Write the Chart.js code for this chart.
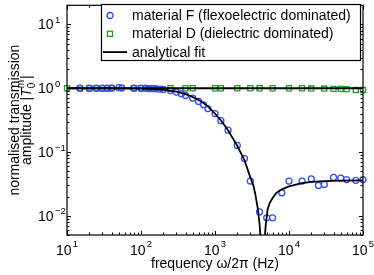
<!DOCTYPE html>
<html><head><meta charset="utf-8">
<script src="https://cdn.jsdelivr.net/npm/chart.js@4/dist/chart.umd.min.js"></script>
<style>html,body{margin:0;padding:0;background:#fff;overflow:hidden}#wrap{width:374px;height:275px}</style>
</head><body><div id="wrap"><canvas id="c" width="374" height="275"></canvas></div>
<script>
// ---- data ----
const freqF = [15, 20, 25, 30, 35, 40, 50, 55, 80, 100, 115, 130, 145, 160, 180, 200, 250, 300, 350, 400, 500, 600, 700, 800, 1000, 1200, 1500, 2000, 2500, 3000, 4000, 5000, 6000, 8000, 10000, 15000, 20000, 25000, 30000, 40000, 50000, 60000, 80000, 100000];
const ampF = [1.0, 1.0, 1.0, 1.0, 1.0, 1.01, 1.02, 1.01, 1.0, 1.0, 1.0, 0.99, 0.99, 0.98, 0.97, 0.96, 0.92, 0.87, 0.82, 0.77, 0.70, 0.62, 0.55, 0.48, 0.40, 0.31, 0.22, 0.127, 0.079, 0.035, 0.0115, 0.0093, 0.0093, 0.023, 0.035, 0.035, 0.038, 0.030, 0.031, 0.040, 0.039, 0.037, 0.036, 0.037];
const freqD = [10, 15, 20, 25, 30, 35, 40, 80, 100, 125, 140, 150, 250, 400, 500, 1000, 1200, 2000, 3000, 4000, 6000, 10000, 15000, 20000, 30000, 40000, 50000, 60000, 80000, 100000];
const ampD = [1.0, 1.0, 1.0, 1.0, 1.0, 1.0, 1.0, 1.0, 1.0, 1.0, 1.0, 1.0, 1.0, 1.0, 1.0, 1.0, 1.0, 1.0, 1.0, 1.0, 1.0, 1.0, 1.0, 0.99, 0.99, 0.98, 0.98, 0.97, 0.94, 0.94];
const freqFitF = [10, 30, 60, 100, 150, 200, 300, 400, 500, 600, 700, 800, 1000, 1200, 1500, 2000, 2500, 3000, 3300, 3500, 3800, 4000, 4100, 4200, 4400, 4600, 4700, 4840, 5140, 5500, 6000, 6800, 8000, 10000, 15000, 20000, 30000, 50000, 100000];
const ampFitF = [1.0, 1.0, 0.995, 0.985, 0.968, 0.945, 0.885, 0.81, 0.73, 0.655, 0.585, 0.52, 0.40, 0.315, 0.22, 0.125, 0.075, 0.04, 0.03, 0.022, 0.0127, 0.0075, 0.005, 0.003, 0.0002, 0.0025, 0.0045, 0.007, 0.0127, 0.016, 0.019, 0.023, 0.026, 0.029, 0.0325, 0.034, 0.035, 0.0355, 0.036];
const freqFitD = [10, 100000];
const ampFitD = [1.0, 1.0];
const xTickValues = [10, 100, 1000, 10000, 100000];
const xTickExponents = ['1', '2', '3', '4', '5'];
const yTickValues = [0.01, 0.1, 1, 10];
const yTickExponents = ['\u22122', '\u22121', '0', '1'];
const seriesLabels = ['material F (flexoelectric dominated)', 'material D (dielectric dominated)', 'analytical fit'];
const xTitle = 'frequency \u03c9/2\u03c0 (Hz)';
const yTitleLine1 = 'normalised transmission';
const yTitleLine2 = 'amplitude |';

const FONT = '"Liberation Sans", Arial, Helvetica, sans-serif';
const BLUE = '#2f4fff';
const GREEN = '#22a022';

const pts = (xs, ys) => xs.map((v, i) => ({x: v, y: ys[i]}));

const decor = {
  id: 'decor',
  afterDatasetsDraw(chart) {
    const {ctx, chartArea: a, scales: {x, y}} = chart;
    ctx.save();
    ctx.strokeStyle = '#000';
    ctx.lineWidth = 1.2;
    ctx.strokeRect(a.left, a.top, a.right - a.left, a.bottom - a.top);
    ctx.lineWidth = 1;
    ctx.beginPath();
    // x ticks
    const xMin = x.min, xMax = x.max;
    for (let d = 1; d <= 1e5; d *= 10) {
      for (let k = 1; k <= 9; k++) {
        const v = d * k;
        if (v < xMin * 0.999 || v > xMax * 1.001) continue;
        const len = k === 1 ? 4 : 2.5;
        const px = Math.round(x.getPixelForValue(v)) + 0.5;
        ctx.moveTo(px, a.bottom); ctx.lineTo(px, a.bottom - len);
        ctx.moveTo(px, a.top); ctx.lineTo(px, a.top + len);
      }
    }
    for (let d = 0.001; d <= 100; d *= 10) {
      for (let k = 1; k <= 9; k++) {
        const v = d * k;
        if (v < y.min * 0.999 || v > y.max * 1.001) continue;
        const len = k === 1 ? 4 : 2.5;
        const py = Math.round(y.getPixelForValue(v)) + 0.5;
        ctx.moveTo(a.left, py); ctx.lineTo(a.left + len, py);
        ctx.moveTo(a.right, py); ctx.lineTo(a.right - len, py);
      }
    }
    ctx.stroke();

    // tick labels
    ctx.fillStyle = '#000';
    ctx.textBaseline = 'alphabetic';
    xTickValues.forEach((v, i) => {
      const px = x.getPixelForValue(v);
      ctx.font = '14px ' + FONT;
      const wb = ctx.measureText('10').width;
      ctx.font = '9.5px ' + FONT;
      const we = ctx.measureText(xTickExponents[i]).width;
      const left = px - (wb + 1 + we) / 2;
      ctx.font = '14px ' + FONT;
      ctx.textAlign = 'left';
      ctx.fillText('10', left, 255);
      ctx.font = '9.5px ' + FONT;
      ctx.fillText(xTickExponents[i], left + wb + 1, 247);
    });
    yTickValues.forEach((v, i) => {
      const py = y.getPixelForValue(v);
      ctx.font = '14px ' + FONT;
      ctx.textAlign = 'right';
      ctx.fillText('10', 53.5, py + 5);
      ctx.font = '9.5px ' + FONT;
      ctx.textAlign = 'left';
      ctx.fillText(yTickExponents[i], 55, py - 1.5);
    });

    // x title
    ctx.font = '14px ' + FONT;
    ctx.textAlign = 'center';
    ctx.fillText(xTitle, (a.left + a.right) / 2, 268);

    // y title (rotated)
    const yc = (a.top + a.bottom) / 2;
    ctx.save();
    ctx.translate(19, yc);
    ctx.rotate(-Math.PI / 2);
    ctx.font = '14px ' + FONT;
    ctx.textAlign = 'center';
    ctx.fillText(yTitleLine1, 0, 0);
    ctx.restore();

    ctx.save();
    ctx.translate(31, yc);
    ctx.rotate(-Math.PI / 2);
    ctx.textAlign = 'left';
    ctx.font = '14px ' + FONT;
    const w1 = ctx.measureText(yTitleLine2).width;
    const wBar = ctx.measureText('|').width;
    ctx.font = 'italic 14px ' + FONT;
    const wT = ctx.measureText('T').width;
    ctx.font = '10px ' + FONT;
    const wSub = ctx.measureText('0').width;
    const wSup = ctx.measureText('m').width;
    const wS = Math.max(wSub, wSup);
    let u = -(w1 + wT + wS + wBar + 1) / 2;
    ctx.font = '14px ' + FONT;
    ctx.fillText(yTitleLine2, u, 0); u += w1;
    ctx.font = 'italic 14px ' + FONT;
    ctx.fillText('T', u, 0); u += wT;
    ctx.font = '10px ' + FONT;
    ctx.fillText('0', u, 3.5);
    ctx.fillText('m', u, -7);
    u += wS + 1;
    ctx.font = '14px ' + FONT;
    ctx.fillText('|', u, 0);
    ctx.restore();

    // legend
    const L = {l: 101, t: 4, r: 360, b: 60};
    ctx.fillStyle = '#fff';
    ctx.fillRect(L.l, L.t, L.r - L.l, L.b - L.t);
    ctx.strokeStyle = '#000';
    ctx.lineWidth = 1.2;
    ctx.strokeRect(L.l + 0.5, L.t + 0.5, L.r - L.l, L.b - L.t);
    const rows = [20, 38.3, 56.6];
    const ds = chart.data.datasets;
    ctx.font = '14px ' + FONT;
    ctx.fillStyle = '#000';
    ctx.textAlign = 'left';
    rows.forEach((bl, i) => ctx.fillText(seriesLabels[i], 132, bl));
    // markers
    const mF = ds[2], mD = ds[3];
    ctx.lineWidth = mF.borderWidth;
    ctx.strokeStyle = mF.borderColor;
    ctx.beginPath(); ctx.arc(110, rows[0] - 4.5, mF.pointRadius, 0, Math.PI * 2); ctx.stroke();
    ctx.lineWidth = mD.borderWidth;
    ctx.strokeStyle = mD.borderColor;
    const s = mD.pointRadius * Math.SQRT1_2;
    ctx.strokeRect(110 - s, rows[1] - 4.5 - s, 2 * s, 2 * s);
    ctx.strokeStyle = '#000';
    ctx.lineWidth = ds[0].borderWidth;
    ctx.beginPath(); ctx.moveTo(103, rows[2] - 4.5); ctx.lineTo(127, rows[2] - 4.5); ctx.stroke();
    ctx.restore();
  }
};

new Chart(document.getElementById('c'), {
  type: 'scatter',
  data: {
    datasets: [
      {label: 'fit D', data: pts(freqFitD, ampFitD), showLine: true, borderColor: '#000', borderWidth: 1.8, pointRadius: 0, order: 0, clip: 0},
      {label: 'fit F', data: pts(freqFitF, ampFitF), showLine: true, borderColor: '#000', borderWidth: 1.8, pointRadius: 0, order: 0, clip: 0},
      {label: seriesLabels[0], data: pts(freqF, ampF), pointStyle: 'circle', pointRadius: 3, borderWidth: 1.3, borderColor: BLUE, backgroundColor: 'rgba(0,0,0,0)', order: 1, clip: false},
      {label: seriesLabels[1], data: pts(freqD, ampD), pointStyle: 'rect', pointRadius: 3.6, borderWidth: 1.3, borderColor: GREEN, backgroundColor: 'rgba(0,0,0,0)', order: 2, clip: false}
    ]
  },
  options: {
    responsive: false,
    animation: false,
    devicePixelRatio: 1,
    layout: {padding: {left: 67, top: 3, right: 11, bottom: 40}},
    scales: {
      x: {type: 'logarithmic', min: 10, max: 100000, display: false},
      y: {type: 'logarithmic', min: 0.005, max: 20, display: false}
    },
    plugins: {legend: {display: false}, tooltip: {enabled: false}},
    events: []
  },
  plugins: [decor]
});
</script>
</body></html>
